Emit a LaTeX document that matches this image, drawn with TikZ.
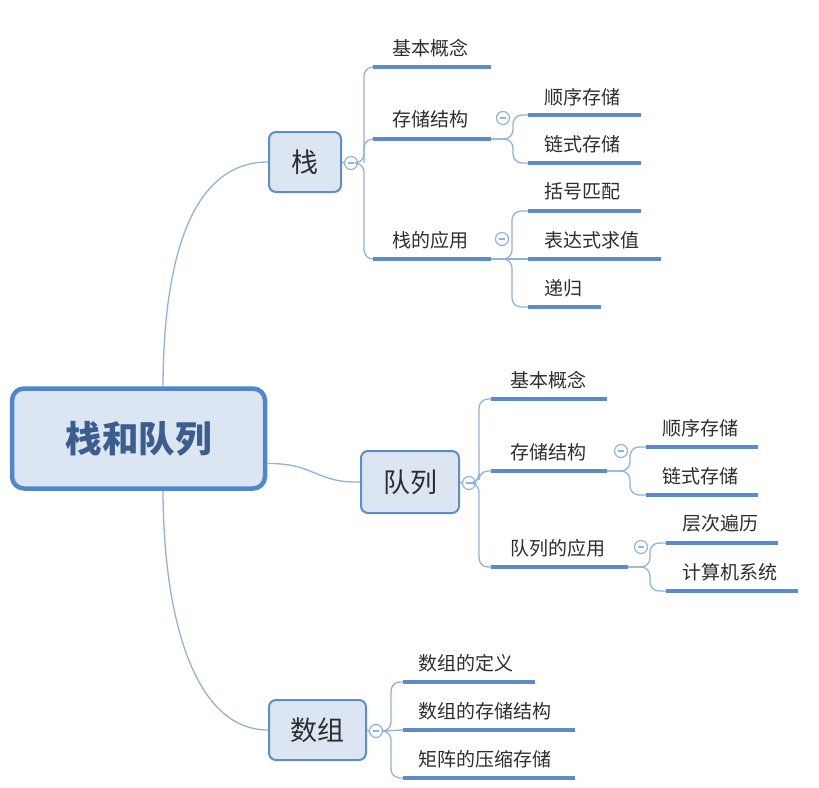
\documentclass[tikz,border=0pt]{standalone}
\usepackage{fontspec}
\newfontfamily\cjk{Noto Sans CJK SC}
\definecolor{nodefill}{HTML}{DCE6F3}
\definecolor{nodeblue}{HTML}{5E8DC8}
\definecolor{rootblue}{HTML}{4F86CD}
\definecolor{ulblue}{HTML}{5B8BCB}
\definecolor{brblue}{HTML}{92B2D9}
\definecolor{txt}{HTML}{2E2E2E}
\definecolor{roottxt}{HTML}{3B5E8E}
\tikzset{
  topic/.style={draw=nodeblue, line width=2pt, fill=nodefill, rounded corners=7pt,
    font=\cjk\fontsize{27}{27}\selectfont, text=txt, inner sep=0},
  lbl/.style={font=\cjk\fontsize{19}{19}\selectfont, text=txt, anchor=west, inner sep=0},
  uline/.style={draw=ulblue, line width=3.5pt},
  branch/.style={draw=brblue, line width=1.3pt, rounded corners=9pt},
  mainbr/.style={draw=brblue, line width=1.3pt},
  toggle/.style={circle, draw=brblue, line width=1.2pt, fill=white, minimum size=13pt, inner sep=0}
}
\newcommand{\tgl}{\textcolor{brblue}{\rule{6pt}{1.2pt}}}
\begin{document}
\begin{tikzpicture}[x=1pt,y=-1pt]
\useasboundingbox (0,0) rectangle (819,787);
\fill[white] (0,0) rectangle (819,787);

% ---------- root and topics ----------
\node[draw=rootblue, line width=4.5pt, fill=nodefill, rounded corners=12pt,
  minimum width=253pt, minimum height=100pt, text=roottxt,
  font=\cjk\bfseries\fontsize{36.5}{36.5}\selectfont] (root) at (138.5,438.5) {栈和队列};
\node[topic, minimum width=72pt, minimum height=60pt] (zhan) at (305,162) {栈};
\node[topic, minimum width=98pt, minimum height=62pt] (duilie) at (410,482) {队列};
\node[topic, minimum width=97pt, minimum height=60pt] (shuzu) at (317.5,730) {数组};

\draw[mainbr] ([xshift=24.5pt]root.north) .. controls (163.5,250) and (195,162) .. (zhan.west);
\draw[mainbr] ([xshift=24.5pt]root.south) .. controls (163.5,620) and (195,730) .. (shuzu.west);
\draw[mainbr] ([yshift=-25pt]root.east) .. controls (315,463) and (315,483) .. (duilie.west);

% ---------- toggles ----------
\node[toggle] (tz) at (351,163) {\tgl};
\node[toggle] (td) at (469,483) {\tgl};
\node[toggle] (ts) at (376,731) {\tgl};
\node[toggle] (tz2) at (503,118) {\tgl};
\node[toggle] (tz3) at (502,239) {\tgl};
\node[toggle] (td2) at (621,451) {\tgl};
\node[toggle] (td3) at (641,547) {\tgl};
\draw[mainbr] (zhan.east) -- (tz.west);
\draw[mainbr] (duilie.east) -- (td.west);
\draw[mainbr] (shuzu.east) -- (ts.west);

% ---------- 栈 subtree ----------
\node[lbl] (z1) at (392,48) {基本概念};
\node[lbl] (z2) at (392,119) {存储结构};
\node[lbl] (z3) at (392,240) {栈的应用};
\coordinate (z1a) at (373,67); \coordinate (z1b) at (491,67);
\coordinate (z2a) at (373,139); \coordinate (z2b) at (491,139);
\coordinate (z3a) at (373,259); \coordinate (z3b) at (491,259);
\draw[branch] (tz.east) -- (364,163) -- (364,67) -- (z1a);
\draw[branch] (364,163) -- (364,139) -- (z2a);
\draw[branch] (tz.east) -- (364,163) -- (364,259) -- (z3a);
\draw[uline] (z1a) -- (z1b);
\draw[uline] (z2a) -- (z2b);
\draw[uline] (z3a) -- (z3b);

\node[lbl] (z21) at (544,97) {顺序存储};
\node[lbl] (z22) at (544,144) {链式存储};
\coordinate (z21a) at (528,115); \coordinate (z21b) at (641,115);
\coordinate (z22a) at (528,163); \coordinate (z22b) at (641,163);
\draw[branch] (z2b) -- (513,139) -- (513,115) -- (z21a);
\draw[branch] (z2b) -- (513,139) -- (513,163) -- (z22a);
\draw[uline] (z21a) -- (z21b);
\draw[uline] (z22a) -- (z22b);

\node[lbl] (z31) at (544,191) {括号匹配};
\node[lbl] (z32) at (544,240) {表达式求值};
\node[lbl] (z33) at (544,288) {递归};
\coordinate (z31a) at (528,211); \coordinate (z31b) at (641,211);
\coordinate (z32a) at (528,259); \coordinate (z32b) at (661,259);
\coordinate (z33a) at (528,307); \coordinate (z33b) at (601,307);
\draw[branch] (z3b) -- (512,259) -- (512,211) -- (z31a);
\draw[mainbr] (z3b) -- (z32a);
\draw[branch] (z3b) -- (512,259) -- (512,307) -- (z33a);
\draw[uline] (z31a) -- (z31b);
\draw[uline] (z32a) -- (z32b);
\draw[uline] (z33a) -- (z33b);

% ---------- 队列 subtree ----------
\node[lbl] (d1) at (510,380) {基本概念};
\node[lbl] (d2) at (510,452) {存储结构};
\node[lbl] (d3) at (510,548) {队列的应用};
\coordinate (d1a) at (491,399); \coordinate (d1b) at (607,399);
\coordinate (d2a) at (491,471); \coordinate (d2b) at (607,471);
\coordinate (d3a) at (491,567); \coordinate (d3b) at (628,567);
\draw[branch] (td.east) -- (479,483) -- (479,399) -- (d1a);
\draw[branch] (td.east) -- (479,483) -- (479,471) -- (d2a);
\draw[branch] (td.east) -- (479,483) -- (479,567) -- (d3a);
\draw[uline] (d1a) -- (d1b);
\draw[uline] (d2a) -- (d2b);
\draw[uline] (d3a) -- (d3b);

\node[lbl] (d21) at (662,428) {顺序存储};
\node[lbl] (d22) at (662,476) {链式存储};
\coordinate (d21a) at (646,447); \coordinate (d21b) at (758,447);
\coordinate (d22a) at (646,495); \coordinate (d22b) at (758,495);
\draw[branch] (d2b) -- (630,471) -- (630,447) -- (d21a);
\draw[branch] (d2b) -- (630,471) -- (630,495) -- (d22a);
\draw[uline] (d21a) -- (d21b);
\draw[uline] (d22a) -- (d22b);

\node[lbl] (d31) at (682,523) {层次遍历};
\node[lbl] (d32) at (682,572) {计算机系统};
\coordinate (d31a) at (666,543); \coordinate (d31b) at (778,543);
\coordinate (d32a) at (666,591); \coordinate (d32b) at (798,591);
\draw[branch] (d3b) -- (650,567) -- (650,543) -- (d31a);
\draw[branch] (d3b) -- (650,567) -- (650,591) -- (d32a);
\draw[uline] (d31a) -- (d31b);
\draw[uline] (d32a) -- (d32b);

% ---------- 数组 subtree ----------
\node[lbl] (s1) at (418,663) {数组的定义};
\node[lbl] (s2) at (418,711) {数组的存储结构};
\node[lbl] (s3) at (418,759) {矩阵的压缩存储};
\coordinate (s1a) at (403,682); \coordinate (s1b) at (535,682);
\coordinate (s2a) at (403,730); \coordinate (s2b) at (575,730);
\coordinate (s3a) at (403,778); \coordinate (s3b) at (575,778);
\draw[branch] (ts.east) -- (391,731) -- (391,682) -- (s1a);
\draw[mainbr] (ts.east) -- (s2a);
\draw[branch] (ts.east) -- (391,731) -- (391,778) -- (s3a);
\draw[uline] (s1a) -- (s1b);
\draw[uline] (s2a) -- (s2b);
\draw[uline] (s3a) -- (s3b);
\end{tikzpicture}
\end{document}
